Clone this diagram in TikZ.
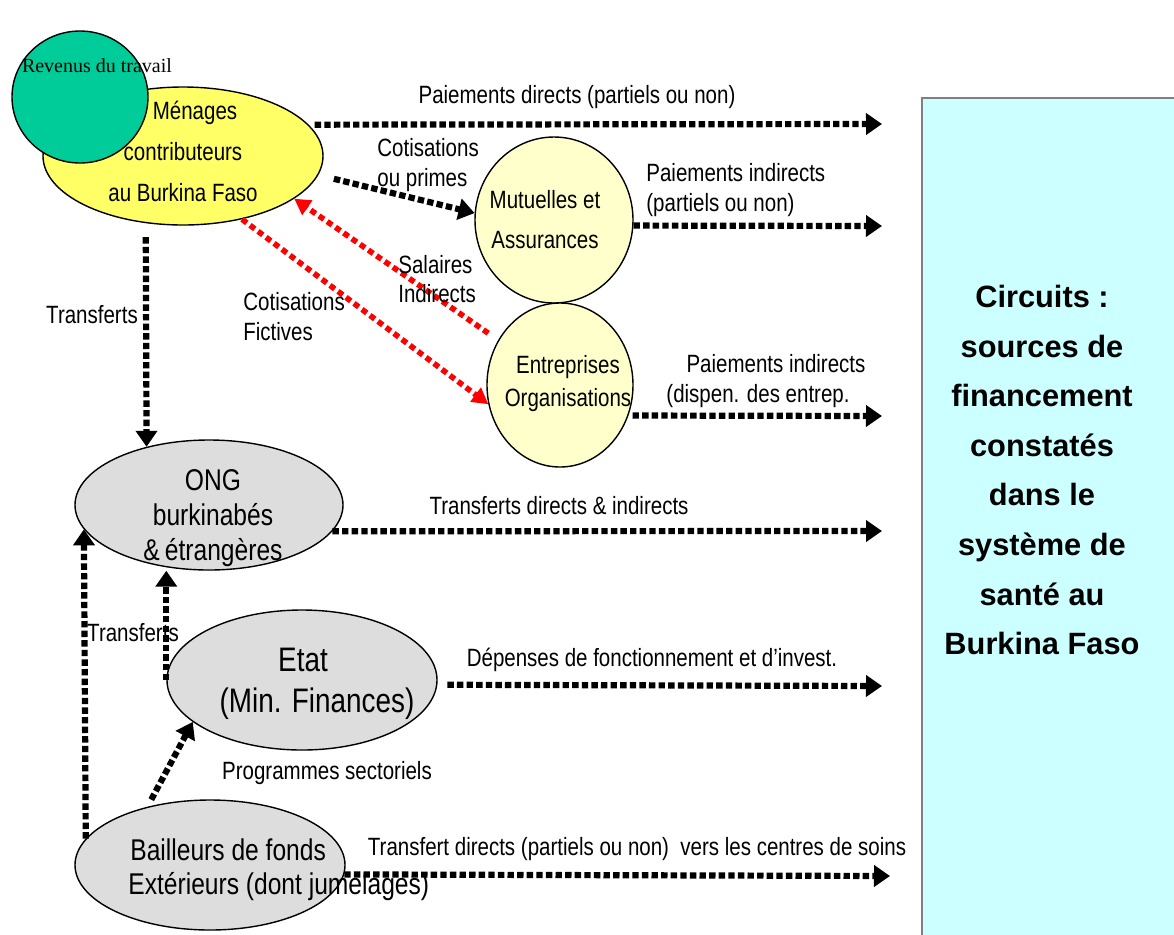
\documentclass[tikz,border=0pt]{standalone}
\usepackage{fontspec}
\setmainfont{Liberation Serif}
\setsansfont{Liberation Sans}[FakeStretch=0.82]
\newfontfamily\circfont{Liberation Sans}
\usetikzlibrary{arrows.meta,shapes.geometric}
\definecolor{menyellow}{HTML}{FFFF66}
\definecolor{paleyellow}{HTML}{FFFFCC}
\definecolor{revgreen}{HTML}{00CC99}
\definecolor{orggray}{HTML}{DDDDDD}
\definecolor{circcyan}{HTML}{CCFFFF}
\begin{document}
\begin{tikzpicture}[x=0.5pt,y=-0.5pt,
    blob/.style={ellipse,draw,line width=0.7pt,inner sep=0pt},
    lbl/.style={font=\sffamily\fontsize{12.5}{15}\selectfont,inner sep=0pt},
    flow/.style={line width=3.1pt,dash pattern=on 3.2pt off 1.6pt,
      -{Triangle[length=8pt,width=10.5pt]}},
    redflow/.style={flow,red,line width=2.8pt,dash pattern=on 3pt off 2pt,
      -{Triangle[length=8pt,width=8.5pt]}}]
    \useasboundingbox (0,0) rectangle (1174,934);
    % cadre de droite
    \fill[circcyan] (922,98) rectangle (1200,960);
    \draw[gray,line width=0.7pt] (922,960) -- (922,98) -- (1200,98);
    \node[align=center,font=\circfont\bfseries\fontsize{15.4}{24.8}\selectfont] (circ) at (1042,470)
      {Circuits :\\sources de\\financement\\constatés\\dans le\\système de\\santé au\\Burkina Faso};
    % acteurs
    \node[blob,fill=menyellow,minimum width=140pt,minimum height=69pt] (men) at (183,156) {};
    \node[lbl,align=center,font=\sffamily\fontsize{12.5}{20.5}\selectfont] (mentxt) at (183,151)
      {\hspace*{12pt}Ménages\\contributeurs\\au Burkina Faso};
    \node[blob,fill=revgreen,minimum width=68pt,minimum height=66pt] (rev) at (80,97) {};
    \node[inner sep=0pt,font=\rmfamily\fontsize{10}{12}\selectfont] (revtxt) at (97,66) {Revenus du travail};
    \node[blob,fill=paleyellow,minimum width=79pt,minimum height=83pt] (mut) at (554,220) {};
    \node[lbl,align=center,font=\sffamily\fontsize{12.5}{20}\selectfont] (muttxt) at (545,220)
      {Mutuelles et\\Assurances};
    \node[blob,fill=paleyellow,minimum width=73pt,minimum height=82pt] (ent) at (560,385) {};
    \node[lbl,align=center,font=\sffamily\fontsize{12.5}{16.5}\selectfont] (enttxt) at (568,384)
      {Entreprises\\Organisations};
    \node[blob,fill=orggray,minimum width=134pt,minimum height=65pt] (ong) at (209,505) {};
    \node[lbl,align=center,font=\sffamily\fontsize{15}{17.5}\selectfont] (ongtxt) at (213,518)
      {ONG\\burkinabés\\\&\,étrangères};
    \node[blob,fill=orggray,minimum width=135pt,minimum height=70pt] (etat) at (302,680) {};
    \node[lbl,align=center,font=\sffamily\fontsize{17}{20.5}\selectfont] (etattxt) at (317,684)
      {Etat\hspace*{14pt}\\(Min. Finances)};
    \node[blob,fill=orggray,minimum width=135pt,minimum height=65pt] (bai) at (210,865) {};
    \node[lbl,align=left,anchor=west,font=\sffamily\fontsize{15}{17}\selectfont] (baitxt) at (128,870)
      {\hspace*{1pt}Bailleurs de fonds\\Extérieurs (dont jumelages)};
    % extremites des fleches
    \coordinate (pd) at (882,124);
    \coordinate (pi1) at (882,226);
    \coordinate (pi2) at (882,416);
    \coordinate (td) at (882,531);
    \coordinate (dep) at (882,686);
    \coordinate (tc) at (890,876);
    % flux
    \draw[flow,shorten <=3pt] (men.14.5) -- (pd);
    \draw[flow,shorten <=8pt] (men.-8) -- (mut.175);
    \draw[flow] (mut.-4.35) -- (pi1);
    \draw[flow,shorten <=2pt] (ent.-24.6) -- (pi2);
    \draw[flow,shorten <=7pt] (men.241.6) -- (ong.137.1);
    \draw[flow] (ong.-12) -- (td);
    \draw[flow] (etat.west) -- (etat.west |- ong.south);
    \draw[flow,shorten <=5pt] (etat.-2.55) -- (dep);
    \draw[flow] (bai.168.9) -- (ong.191.2);
    \draw[flow,shorten <=4pt] (bai.137.6) -- (etat.201.8);
    \draw[flow] (bai.-4.7) -- (tc);
    \draw[redflow,shorten <=6pt] (ent.144.5) -- (men.-21.1);
    \draw[redflow] (men.-47) -- (ent.195.7);
    % libelles
    \node[lbl] (lpd) at (577,97) {Paiements directs (partiels ou non)};
    \node[lbl,align=left,anchor=west,font=\sffamily\fontsize{12.5}{15}\selectfont] (lcot) at (377,165) {Cotisations\\ou primes};
    \node[lbl,align=left,anchor=west] (lpi1) at (646,190) {Paiements indirects\\(partiels ou non)};
    \node[lbl,align=left,anchor=west,font=\sffamily\fontsize{12.5}{14.5}\selectfont] (lsal) at (398,279) {Salaires\\Indirects};
    \node[lbl,align=left,anchor=west] (lfic) at (243,317) {Cotisations\\Fictives};
    \node[lbl,align=center] (lpi2) at (758,381) {\hspace*{18pt}Paiements indirects\\(dispen. des entrep.};
    \node[lbl] (ltr1) at (92,315) {Transferts};
    \node[lbl] (ltd) at (559,506) {Transferts directs \& indirects};
    \node[lbl] (ltr2) at (133,633) {Transferts};
    \node[lbl] (ldep) at (652,660) {Dépenses de fonctionnement et d’invest.};
    \node[lbl] (lprog) at (327,773) {Programmes sectoriels};
    \node[lbl] (ltc) at (637,849) {Transfert directs (partiels ou non)\ \ vers les centres de soins};
\end{tikzpicture}
\end{document}
